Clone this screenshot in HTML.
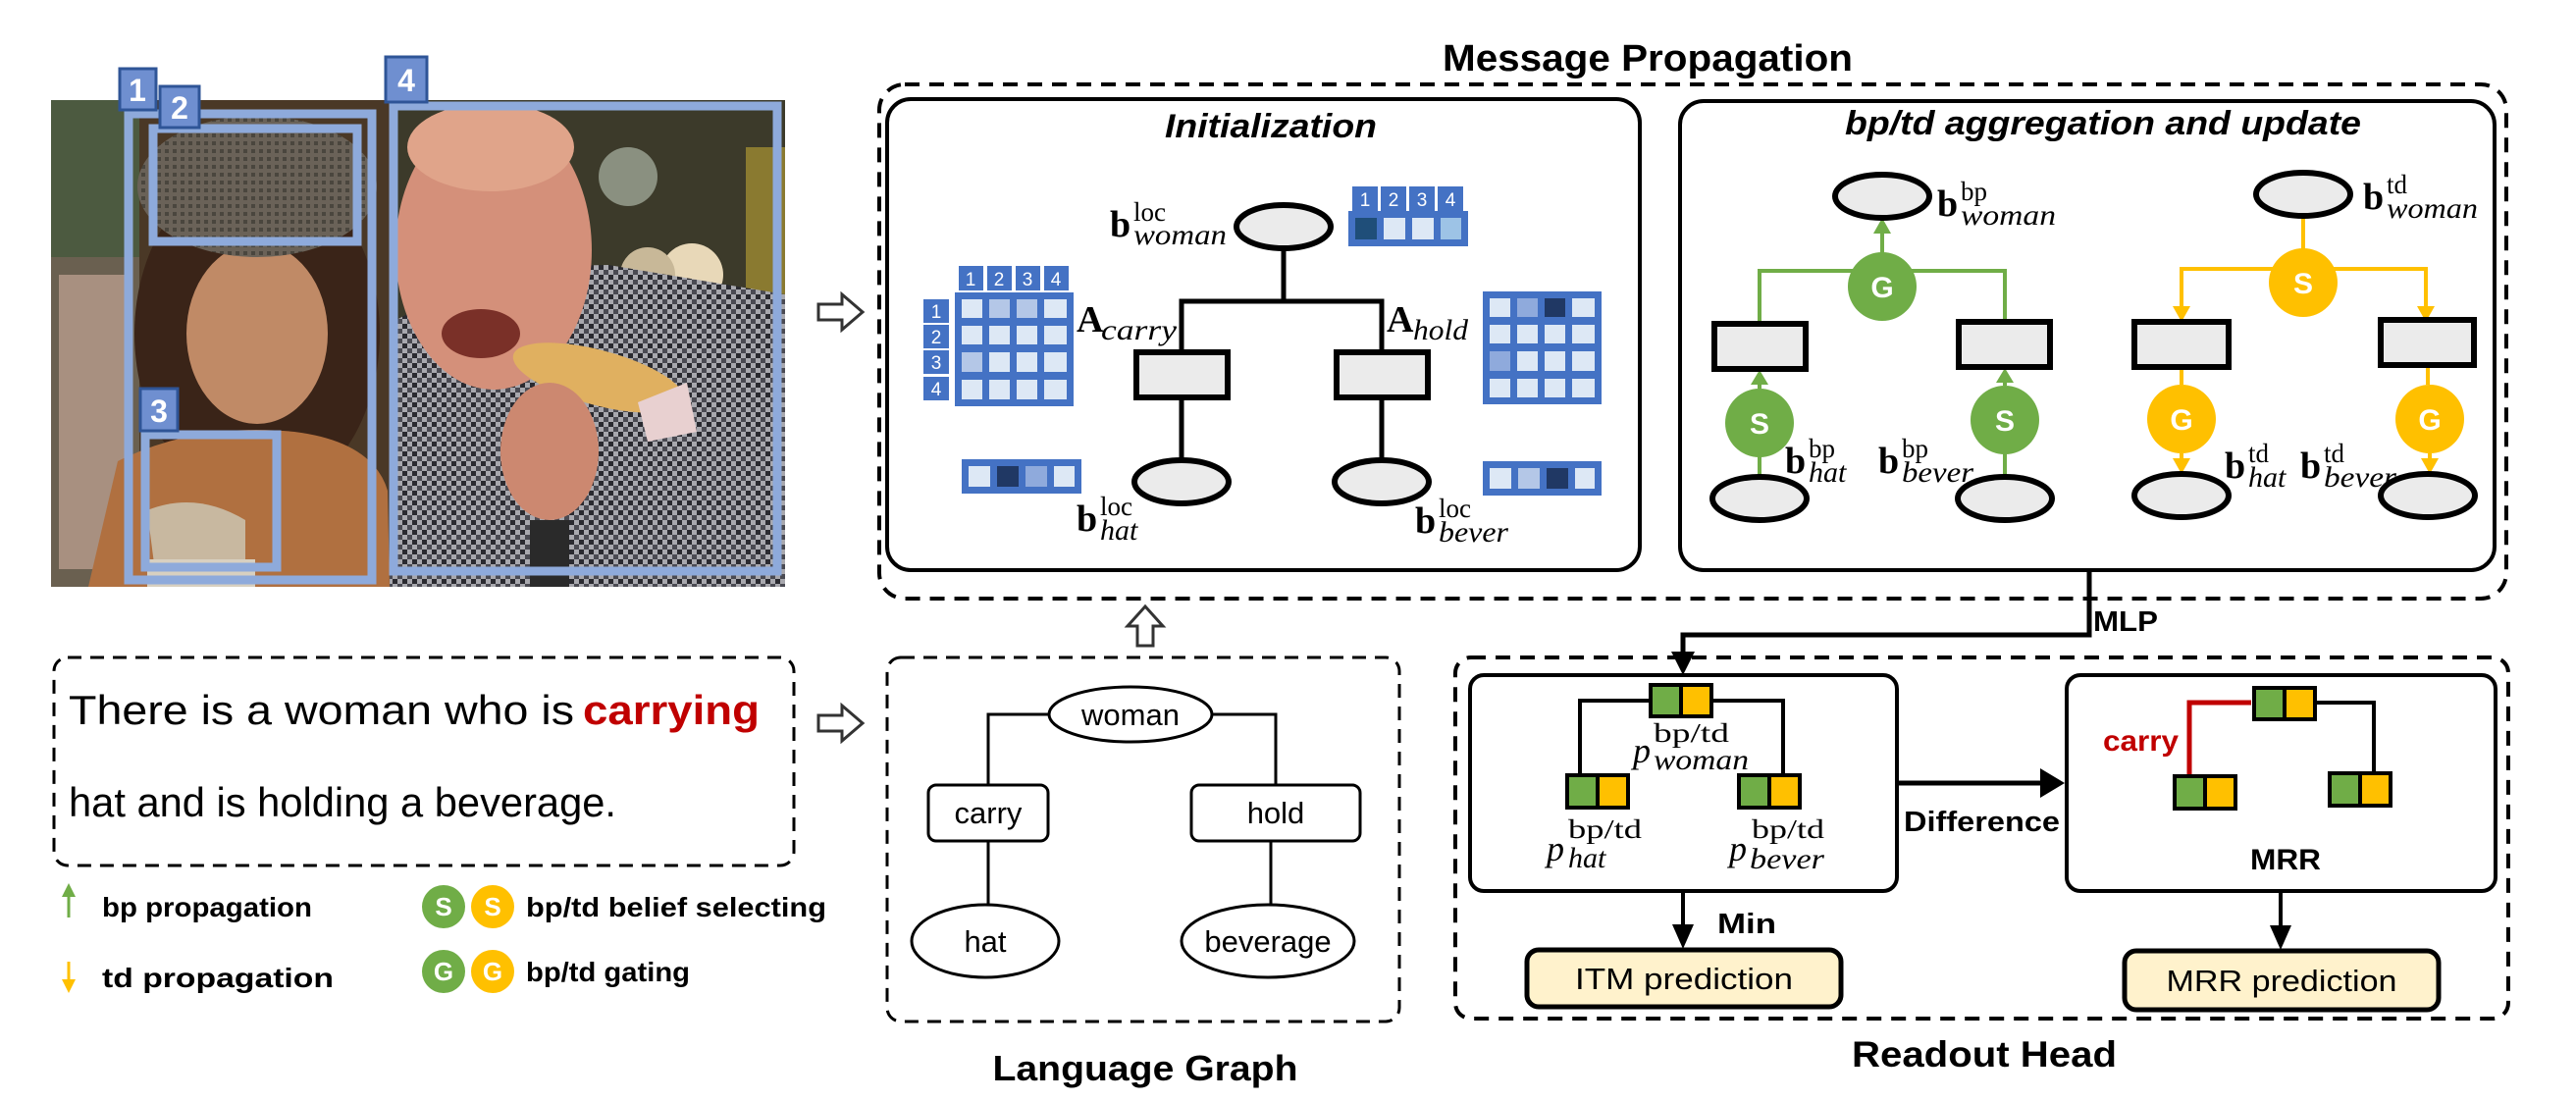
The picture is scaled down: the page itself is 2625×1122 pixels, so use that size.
<!DOCTYPE html>
<html><head><meta charset="utf-8"><style>html,body{margin:0;padding:0;background:#fff}svg{display:block}</style></head>
<body>
<svg width="2625" height="1122" viewBox="0 0 2625 1122" xmlns="http://www.w3.org/2000/svg">
<defs>
<clipPath id="ph"><rect x="52" y="102" width="748" height="496"/></clipPath>
<pattern id="chk" width="10" height="10" patternUnits="userSpaceOnUse"><rect width="10" height="10" fill="#a8a8ae"/><rect width="5" height="5" fill="#2a2a30"/><rect x="5" y="5" width="5" height="5" fill="#4a4a52"/></pattern>
<pattern id="chk2" width="8" height="8" patternUnits="userSpaceOnUse"><rect width="8" height="8" fill="#6a6258"/><rect width="4" height="4" fill="#4a463e"/></pattern>
</defs>

<!-- PHOTO -->
<g clip-path="url(#ph)">
<rect x="52" y="102" width="748" height="496" fill="#4a3826"/>
<rect x="52" y="102" width="90" height="496" fill="#6a6050"/>
<rect x="52" y="102" width="90" height="160" fill="#4c5a40"/>
<rect x="60" y="280" width="70" height="300" fill="#a89080"/>
<rect x="397" y="102" width="403" height="496" fill="#3c3a2a"/>
<circle cx="640" cy="180" r="30" fill="#8a9080"/>
<circle cx="705" cy="280" r="32" fill="#e8d8b8"/>
<circle cx="660" cy="280" r="28" fill="#c8b898"/>
<rect x="760" y="150" width="40" height="200" fill="#8a7a30"/>
<ellipse cx="262" cy="340" rx="125" ry="170" fill="#3a2418"/>
<path d="M90 598 L120 470 Q200 430 300 440 Q380 450 395 500 L397 598 Z" fill="#b07040"/>
<ellipse cx="262" cy="340" rx="72" ry="92" fill="#c08a66"/>
<ellipse cx="262" cy="190" rx="122" ry="72" fill="url(#chk2)"/>
<path d="M150 520 Q200 500 250 530 L250 598 L160 598 Z" fill="#c8b8a0"/>
<rect x="150" y="570" width="110" height="28" fill="#d8d0c0"/>
<path d="M397 598 L397 330 Q500 270 620 270 L800 300 L800 598 Z" fill="url(#chk)"/>
<ellipse cx="503" cy="255" rx="100" ry="142" fill="#d4907a"/>
<ellipse cx="500" cy="150" rx="85" ry="45" fill="#e0a48a"/>
<ellipse cx="490" cy="340" rx="40" ry="25" fill="#7a3028"/>
<ellipse cx="610" cy="385" rx="90" ry="28" transform="rotate(15 610 385)" fill="#e0b060"/>
<path d="M650 410 L700 390 L710 440 L660 450Z" fill="#e8d0d0"/>
<ellipse cx="560" cy="460" rx="50" ry="70" fill="#cc8870"/>
<rect x="540" y="530" width="40" height="68" fill="#2a2a2a"/>
</g>
<g fill="none" stroke="#8eaadb" stroke-width="9">
<rect x="131" y="116" width="248" height="475"/>
<rect x="156" y="131" width="208" height="115"/>
<rect x="148" y="443" width="134" height="135"/>
<rect x="401" y="108" width="391" height="474"/>
</g>
<g font-family="Liberation Sans, sans-serif" font-weight="bold" font-size="32" fill="#fff" text-anchor="middle">
<rect x="122" y="70" width="37" height="42" fill="#6f8fd0" stroke="#2f5597" stroke-width="3"/><text x="140" y="103">1</text>
<rect x="163" y="88" width="40" height="42" fill="#6f8fd0" stroke="#2f5597" stroke-width="3"/><text x="183" y="121">2</text>
<rect x="393" y="58" width="42" height="46" fill="#6f8fd0" stroke="#2f5597" stroke-width="3"/><text x="414" y="93">4</text>
<rect x="143" y="396" width="38" height="43" fill="#6f8fd0" stroke="#2f5597" stroke-width="3"/><text x="162" y="430">3</text>
</g>

<!-- hollow arrows -->
<g fill="#fff" stroke="#333" stroke-width="3">
<path d="M834 310 L858 310 L858 300 L879 318 L858 336 L858 326 L834 326 Z"/>
<path d="M834 729 L858 729 L858 719 L879 737 L858 755 L858 745 L834 745 Z"/>
<path d="M1159 658 L1159 638 L1149 638 L1167 618 L1185 638 L1175 638 L1175 658 Z"/>
</g>

<!-- Sentence -->
<rect x="55" y="670" width="754" height="212" rx="14" fill="none" stroke="#000" stroke-width="3" stroke-dasharray="14 9"/>
<g font-family="Liberation Sans, sans-serif" font-size="42" fill="#000">
<text x="70" y="738" textLength="515" lengthAdjust="spacingAndGlyphs">There is a woman who is</text>
<text x="594" y="738" font-weight="bold" fill="#c00000" textLength="180" lengthAdjust="spacingAndGlyphs">carrying</text>
<text x="70" y="832" textLength="558" lengthAdjust="spacingAndGlyphs">hat and is holding a beverage.</text>
</g>

<!-- Legend -->
<line x1="70" y1="935" x2="70" y2="912" stroke="#70ad47" stroke-width="3"/><path d="M63 914 L70 900 L77 914Z" fill="#70ad47"/>
<line x1="70" y1="980" x2="70" y2="1000" stroke="#ffc000" stroke-width="3"/><path d="M63 998 L70 1012 L77 998Z" fill="#ffc000"/>
<g font-family="Liberation Sans, sans-serif" font-weight="bold" font-size="28" fill="#000">
<text x="104" y="934" textLength="214" lengthAdjust="spacingAndGlyphs">bp propagation</text>
<text x="104" y="1006" textLength="236" lengthAdjust="spacingAndGlyphs">td propagation</text>
<text x="536" y="934" textLength="306" lengthAdjust="spacingAndGlyphs">bp/td belief selecting</text>
<text x="536" y="1000" textLength="167" lengthAdjust="spacingAndGlyphs">bp/td gating</text>
</g>
<g font-family="Liberation Sans, sans-serif" font-weight="bold" font-size="26" fill="#fff" text-anchor="middle">
<circle cx="452" cy="924" r="22" fill="#70ad47"/><text x="452" y="933">S</text>
<circle cx="502" cy="924" r="22" fill="#ffc000"/><text x="502" y="933">S</text>
<circle cx="452" cy="990" r="22" fill="#70ad47"/><text x="452" y="999">G</text>
<circle cx="502" cy="990" r="22" fill="#ffc000"/><text x="502" y="999">G</text>
</g>

<!-- Message Propagation -->
<text x="1679" y="72" font-family="Liberation Sans, sans-serif" font-weight="bold" font-size="38" text-anchor="middle" textLength="418" lengthAdjust="spacingAndGlyphs">Message Propagation</text>
<rect x="896" y="86" width="1658" height="524" rx="26" fill="none" stroke="#000" stroke-width="4" stroke-dasharray="15 10"/>
<rect x="904" y="101" width="767" height="480" rx="24" fill="#fff" stroke="#000" stroke-width="4"/>
<rect x="1712" y="103" width="830" height="478" rx="24" fill="#fff" stroke="#000" stroke-width="4"/>
<g font-family="Liberation Sans, sans-serif" font-weight="bold" font-style="italic" font-size="34" text-anchor="middle">
<text x="1295" y="140" textLength="216" lengthAdjust="spacingAndGlyphs">Initialization</text>
<text x="2143" y="137" textLength="526" lengthAdjust="spacingAndGlyphs">bp/td aggregation and update</text>
</g>

<!-- Init graph -->
<g stroke="#000" stroke-width="5" fill="none">
<polyline points="1308,253 1308,307 1204,307 1204,358"/>
<polyline points="1308,307 1408,307 1408,358"/>
<line x1="1204" y1="406" x2="1204" y2="469"/>
<line x1="1408" y1="406" x2="1408" y2="469"/>
</g>
<g stroke="#000" stroke-width="6" fill="#ebebeb">
<ellipse cx="1308" cy="231" rx="48" ry="22"/>
<rect x="1158" y="359" width="93" height="46"/>
<rect x="1362" y="359" width="93" height="46"/>
<ellipse cx="1204" cy="491" rx="48" ry="22"/>
<ellipse cx="1408" cy="491" rx="48" ry="22"/>
</g>
<!-- matrices -->
<g stroke="#4472c4" stroke-width="4">
<rect x="975" y="300" width="117" height="112" fill="#4472c4"/>
<g fill="#dde8f5">
<rect x="978" y="303" width="25" height="23"/><rect x="1006" y="303" width="25" height="23" fill="#b4c7e7"/><rect x="1034" y="303" width="25" height="23" fill="#b4c7e7"/><rect x="1062" y="303" width="27" height="23"/>
<rect x="978" y="330" width="25" height="23"/><rect x="1006" y="330" width="25" height="23"/><rect x="1034" y="330" width="25" height="23"/><rect x="1062" y="330" width="27" height="23"/>
<rect x="978" y="357" width="25" height="24" fill="#b4c7e7"/><rect x="1006" y="357" width="25" height="24"/><rect x="1034" y="357" width="25" height="24"/><rect x="1062" y="357" width="27" height="24"/>
<rect x="978" y="385" width="25" height="24"/><rect x="1006" y="385" width="25" height="24"/><rect x="1034" y="385" width="25" height="24"/><rect x="1062" y="385" width="27" height="24"/>
</g>
<rect x="1513" y="299" width="117" height="111" fill="#4472c4"/>
<g fill="#dde8f5">
<rect x="1516" y="302" width="25" height="23"/><rect x="1544" y="302" width="25" height="23" fill="#8faadc"/><rect x="1572" y="302" width="25" height="23" fill="#203864"/><rect x="1600" y="302" width="27" height="23"/>
<rect x="1516" y="329" width="25" height="23"/><rect x="1544" y="329" width="25" height="23"/><rect x="1572" y="329" width="25" height="23"/><rect x="1600" y="329" width="27" height="23"/>
<rect x="1516" y="356" width="25" height="24" fill="#8faadc"/><rect x="1544" y="356" width="25" height="24"/><rect x="1572" y="356" width="25" height="24"/><rect x="1600" y="356" width="27" height="24"/>
<rect x="1516" y="384" width="25" height="23"/><rect x="1544" y="384" width="25" height="23"/><rect x="1572" y="384" width="25" height="23"/><rect x="1600" y="384" width="27" height="23"/>
</g>
<rect x="1376" y="217" width="118" height="32" fill="#4472c4"/>
<rect x="1379" y="220" width="26" height="26" fill="#1f4e79"/><rect x="1408" y="220" width="26" height="26" fill="#dde8f5"/><rect x="1437" y="220" width="26" height="26" fill="#dde8f5"/><rect x="1466" y="220" width="25" height="26" fill="#9dc3e6"/>
<rect x="982" y="470" width="118" height="31" fill="#4472c4"/>
<rect x="985" y="473" width="26" height="25" fill="#dde8f5"/><rect x="1014" y="473" width="26" height="25" fill="#203864"/><rect x="1043" y="473" width="26" height="25" fill="#8faadc"/><rect x="1072" y="473" width="25" height="25" fill="#dde8f5"/>
<rect x="1513" y="472" width="117" height="31" fill="#4472c4"/>
<rect x="1516" y="475" width="26" height="25" fill="#dde8f5"/><rect x="1545" y="475" width="26" height="25" fill="#b4c7e7"/><rect x="1574" y="475" width="26" height="25" fill="#203864"/><rect x="1603" y="475" width="24" height="25" fill="#dde8f5"/>
</g>
<g fill="#4472c4">
<rect x="977" y="271" width="25" height="25"/><rect x="1006" y="271" width="25" height="25"/><rect x="1035" y="271" width="25" height="25"/><rect x="1064" y="271" width="25" height="25"/>
<rect x="941" y="305" width="26" height="24"/><rect x="941" y="331" width="26" height="24"/><rect x="941" y="357" width="26" height="24"/><rect x="941" y="384" width="26" height="24"/>
<rect x="1378" y="190" width="26" height="25"/><rect x="1407" y="190" width="26" height="25"/><rect x="1436" y="190" width="26" height="25"/><rect x="1465" y="190" width="26" height="25"/>
</g>
<g font-family="Liberation Sans, sans-serif" font-size="19" fill="#fff" text-anchor="middle">
<text x="989" y="291">1</text><text x="1018" y="291">2</text><text x="1047" y="291">3</text><text x="1076" y="291">4</text>
<text x="954" y="324">1</text><text x="954" y="350">2</text><text x="954" y="376">3</text><text x="954" y="403">4</text>
<text x="1391" y="210">1</text><text x="1420" y="210">2</text><text x="1449" y="210">3</text><text x="1478" y="210">4</text>
</g>
<g font-family="Liberation Serif, serif" fill="#000">
<text x="1131" y="241" font-weight="bold" font-size="38">b</text><text x="1155" y="225" font-size="27">loc</text><text x="1155" y="249" font-style="italic" font-size="30" textLength="95" lengthAdjust="spacingAndGlyphs">woman</text>
<text x="1097" y="338" font-weight="bold" font-size="38">A</text><text x="1122" y="346" font-style="italic" font-size="30" textLength="77" lengthAdjust="spacingAndGlyphs">carry</text>
<text x="1413" y="338" font-weight="bold" font-size="38">A</text><text x="1440" y="346" font-style="italic" font-size="30" textLength="56" lengthAdjust="spacingAndGlyphs">hold</text>
<text x="1097" y="541" font-weight="bold" font-size="38">b</text><text x="1121" y="525" font-size="27">loc</text><text x="1121" y="550" font-style="italic" font-size="30">hat</text>
<text x="1442" y="543" font-weight="bold" font-size="38">b</text><text x="1466" y="527" font-size="27">loc</text><text x="1466" y="552" font-style="italic" font-size="30" textLength="71" lengthAdjust="spacingAndGlyphs">bever</text>
</g>

<!-- bp side -->
<g stroke="#70ad47" stroke-width="4" fill="none">
<polyline points="1793,329 1793,276 2043,276 2043,327"/>
<line x1="1918" y1="258" x2="1918" y2="236"/>
<line x1="1793" y1="396" x2="1793" y2="388"/>
<line x1="2043" y1="393" x2="2043" y2="386"/>
<line x1="1793" y1="486" x2="1793" y2="465"/>
<line x1="2043" y1="486" x2="2043" y2="462"/>
</g>
<g fill="#70ad47">
<path d="M1909 238 L1918 222 L1927 238Z"/>
<path d="M1784 392 L1793 377 L1802 392Z"/>
<path d="M2034 390 L2043 375 L2052 390Z"/>
</g>
<g stroke="#ffc000" stroke-width="4" fill="none">
<line x1="2347" y1="220" x2="2347" y2="254"/>
<polyline points="2223,316 2223,274 2472,274 2472,316"/>
<line x1="2223" y1="374" x2="2223" y2="392"/>
<line x1="2474" y1="372" x2="2474" y2="392"/>
<line x1="2223" y1="462" x2="2223" y2="472"/>
<line x1="2476" y1="462" x2="2476" y2="472"/>
</g>
<g fill="#ffc000">
<path d="M2214 312 L2223 328 L2232 312Z"/>
<path d="M2463 312 L2472 328 L2481 312Z"/>
<path d="M2214 467 L2223 483 L2232 467Z"/>
<path d="M2467 467 L2476 483 L2485 467Z"/>
</g>
<g stroke="#000" stroke-width="6" fill="#ebebeb">
<ellipse cx="1918" cy="200" rx="48" ry="22"/>
<rect x="1747" y="330" width="93" height="46"/>
<rect x="1996" y="328" width="93" height="46"/>
<ellipse cx="1793" cy="508" rx="48" ry="22"/>
<ellipse cx="2043" cy="508" rx="48" ry="22"/>
<ellipse cx="2347" cy="198" rx="48" ry="22"/>
<rect x="2175" y="328" width="96" height="46"/>
<rect x="2426" y="326" width="95" height="46"/>
<ellipse cx="2223" cy="505" rx="48" ry="22"/>
<ellipse cx="2474" cy="505" rx="48" ry="22"/>
</g>
<g font-family="Liberation Sans, sans-serif" font-weight="bold" font-size="30" fill="#fff" text-anchor="middle">
<circle cx="1918" cy="292" r="35" fill="#70ad47"/><text x="1918" y="303">G</text>
<circle cx="1793" cy="431" r="35" fill="#70ad47"/><text x="1793" y="442">S</text>
<circle cx="2043" cy="428" r="35" fill="#70ad47"/><text x="2043" y="439">S</text>
<circle cx="2347" cy="288" r="35" fill="#ffc000"/><text x="2347" y="299">S</text>
<circle cx="2223" cy="427" r="35" fill="#ffc000"/><text x="2223" y="438">G</text>
<circle cx="2476" cy="427" r="35" fill="#ffc000"/><text x="2476" y="438">G</text>
</g>
<g font-family="Liberation Serif, serif" fill="#000">
<text x="1974" y="220" font-weight="bold" font-size="38">b</text><text x="1998" y="204" font-size="27">bp</text><text x="1998" y="229" font-style="italic" font-size="30" textLength="97" lengthAdjust="spacingAndGlyphs">woman</text>
<text x="1819" y="482" font-weight="bold" font-size="38">b</text><text x="1843" y="466" font-size="27">bp</text><text x="1843" y="491" font-style="italic" font-size="30">hat</text>
<text x="1914" y="482" font-weight="bold" font-size="38">b</text><text x="1938" y="466" font-size="27">bp</text><text x="1938" y="491" font-style="italic" font-size="30" textLength="73" lengthAdjust="spacingAndGlyphs">bever</text>
<text x="2408" y="213" font-weight="bold" font-size="38">b</text><text x="2432" y="197" font-size="27">td</text><text x="2432" y="222" font-style="italic" font-size="30" textLength="93" lengthAdjust="spacingAndGlyphs">woman</text>
<text x="2267" y="487" font-weight="bold" font-size="38">b</text><text x="2291" y="471" font-size="27">td</text><text x="2291" y="496" font-style="italic" font-size="30">hat</text>
<text x="2344" y="487" font-weight="bold" font-size="38">b</text><text x="2368" y="471" font-size="27">td</text><text x="2368" y="496" font-style="italic" font-size="30" textLength="74" lengthAdjust="spacingAndGlyphs">bever</text>
</g>

<!-- Language Graph -->
<rect x="904" y="670" width="522" height="371" rx="14" fill="none" stroke="#000" stroke-width="3" stroke-dasharray="14 9"/>
<g stroke="#000" stroke-width="3" fill="none">
<polyline points="1070,728 1007,728 1007,800"/>
<polyline points="1234,728 1300,728 1300,800"/>
<line x1="1007" y1="857" x2="1007" y2="922"/>
<line x1="1295" y1="857" x2="1295" y2="922"/>
</g>
<g stroke="#000" stroke-width="3" fill="#fff">
<ellipse cx="1152" cy="728" rx="83" ry="28"/>
<rect x="946" y="800" width="122" height="57" rx="8"/>
<rect x="1214" y="800" width="172" height="57" rx="8"/>
<ellipse cx="1004" cy="959" rx="75" ry="37"/>
<ellipse cx="1292" cy="959" rx="88" ry="37"/>
</g>
<g font-family="Liberation Sans, sans-serif" font-size="31" fill="#000" text-anchor="middle">
<text x="1152" y="739">woman</text>
<text x="1007" y="839">carry</text>
<text x="1300" y="839">hold</text>
<text x="1004" y="970">hat</text>
<text x="1292" y="970">beverage</text>
</g>
<text x="1167" y="1101" font-family="Liberation Sans, sans-serif" font-weight="bold" font-size="36" text-anchor="middle" textLength="311" lengthAdjust="spacingAndGlyphs">Language Graph</text>

<!-- MLP connector -->
<polyline points="2129,581 2129,647 1715,647 1715,668" fill="none" stroke="#000" stroke-width="5"/>
<path d="M1703 664 L1715 688 L1727 664Z" fill="#000"/>
<text x="2133" y="643" font-family="Liberation Sans, sans-serif" font-weight="bold" font-size="29" textLength="66" lengthAdjust="spacingAndGlyphs">MLP</text>

<!-- Readout -->
<rect x="1483" y="670" width="1073" height="368" rx="16" fill="none" stroke="#000" stroke-width="4" stroke-dasharray="15 10"/>
<rect x="1498" y="688" width="435" height="220" rx="14" fill="#fff" stroke="#000" stroke-width="4"/>
<rect x="2106" y="688" width="437" height="220" rx="14" fill="#fff" stroke="#000" stroke-width="4"/>
<polyline points="1610,789 1610,714 1817,714 1817,789" fill="none" stroke="#000" stroke-width="4"/>
<polyline points="2359,716 2419,716 2419,787" fill="none" stroke="#000" stroke-width="4"/>
<polyline points="2294,716 2231,716 2231,789" fill="none" stroke="#c00000" stroke-width="5"/>
<g stroke="#000" stroke-width="4">
<rect x="1682" y="698" width="31" height="32" fill="#70ad47"/><rect x="1713" y="698" width="31" height="32" fill="#ffc000"/>
<rect x="1597" y="790" width="31" height="33" fill="#70ad47"/><rect x="1628" y="790" width="31" height="33" fill="#ffc000"/>
<rect x="1772" y="790" width="31" height="33" fill="#70ad47"/><rect x="1803" y="790" width="31" height="33" fill="#ffc000"/>
<rect x="2297" y="701" width="31" height="32" fill="#70ad47"/><rect x="2328" y="701" width="31" height="32" fill="#ffc000"/>
<rect x="2216" y="791" width="31" height="33" fill="#70ad47"/><rect x="2247" y="791" width="31" height="33" fill="#ffc000"/>
<rect x="2374" y="788" width="31" height="33" fill="#70ad47"/><rect x="2405" y="788" width="31" height="33" fill="#ffc000"/>
</g>
<g font-family="Liberation Serif, serif" fill="#000">
<text x="1664" y="777" font-style="italic" font-size="36">p</text><text x="1685" y="756" font-size="27" textLength="77" lengthAdjust="spacingAndGlyphs">bp/td</text><text x="1685" y="784" font-style="italic" font-size="30" textLength="97" lengthAdjust="spacingAndGlyphs">woman</text>
<text x="1576" y="877" font-style="italic" font-size="36">p</text><text x="1598" y="854" font-size="27" textLength="75" lengthAdjust="spacingAndGlyphs">bp/td</text><text x="1598" y="884" font-style="italic" font-size="30">hat</text>
<text x="1762" y="877" font-style="italic" font-size="36">p</text><text x="1785" y="854" font-size="27" textLength="74" lengthAdjust="spacingAndGlyphs">bp/td</text><text x="1783" y="885" font-style="italic" font-size="30" textLength="76" lengthAdjust="spacingAndGlyphs">bever</text>
</g>
<line x1="1935" y1="798" x2="2083" y2="798" stroke="#000" stroke-width="5"/>
<path d="M2079 783 L2104 798 L2079 813Z" fill="#000"/>
<g font-family="Liberation Sans, sans-serif" font-weight="bold" fill="#000">
<text x="1940" y="847" font-size="29" textLength="159" lengthAdjust="spacingAndGlyphs">Difference</text>
<text x="2143" y="765" font-size="30" fill="#c00000" textLength="77" lengthAdjust="spacingAndGlyphs">carry</text>
<text x="2329" y="886" font-size="30" text-anchor="middle" textLength="72" lengthAdjust="spacingAndGlyphs">MRR</text>
<text x="1750" y="951" font-size="29" textLength="60" lengthAdjust="spacingAndGlyphs">Min</text>
</g>
<line x1="1715" y1="908" x2="1715" y2="945" stroke="#000" stroke-width="4"/>
<path d="M1704 942 L1715 967 L1726 942Z" fill="#000"/>
<line x1="2324" y1="908" x2="2324" y2="946" stroke="#000" stroke-width="4"/>
<path d="M2313 943 L2324 968 L2335 943Z" fill="#000"/>
<rect x="1556" y="968" width="320" height="58" rx="12" fill="#fff2cc" stroke="#000" stroke-width="5"/>
<rect x="2165" y="969" width="320" height="60" rx="12" fill="#fff2cc" stroke="#000" stroke-width="5"/>
<g font-family="Liberation Sans, sans-serif" font-size="31" fill="#000" text-anchor="middle">
<text x="1716" y="1008" textLength="222" lengthAdjust="spacingAndGlyphs">ITM prediction</text>
<text x="2325" y="1010" textLength="235" lengthAdjust="spacingAndGlyphs">MRR prediction</text>
</g>
<text x="2022" y="1087" font-family="Liberation Sans, sans-serif" font-weight="bold" font-size="37" text-anchor="middle" textLength="270" lengthAdjust="spacingAndGlyphs">Readout Head</text>
</svg>
</body></html>
